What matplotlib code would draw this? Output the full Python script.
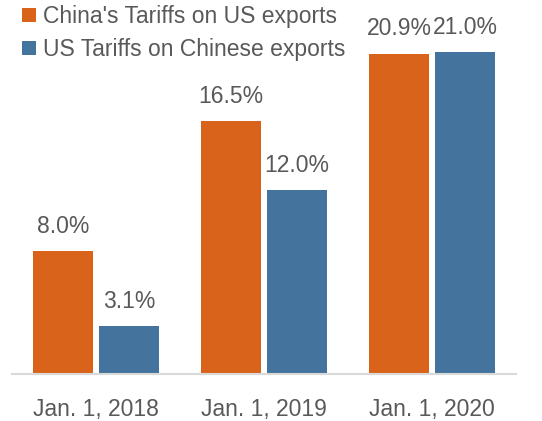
import matplotlib.pyplot as plt
import numpy as np

dates = ['Jan. 1, 2018', 'Jan. 1, 2019', 'Jan. 1, 2020']
china_tariffs = [8.0, 16.5, 20.9]
us_tariffs = [3.1, 12.0, 21.0]
series_names = ["China's Tariffs on US exports", 'US Tariffs on Chinese exports']

orange = '#D9631A'
blue = '#44749E'
grey_text = '#595959'
font = 'Liberation Sans'
fs = 16.5

fig = plt.figure(figsize=(5.42, 4.21), dpi=100)
ax = fig.add_axes([12 / 542, 47 / 421, 504 / 542, 374 / 421])

x = np.arange(len(dates))
w = 0.357
off = 0.196
b1 = ax.bar(x - off, china_tariffs, w, color=orange, label=series_names[0])
b2 = ax.bar(x + off, us_tariffs, w, color=blue, label=series_names[1])

for bars, vals in [(b1, china_tariffs), (b2, us_tariffs)]:
    for rect, v in zip(bars, vals):
        ax.annotate(f'{v:.1f}%', (rect.get_x() + rect.get_width() / 2, v),
                    xytext=(0, 9.5), textcoords='offset points',
                    ha='center', va='bottom', fontsize=fs, family=font,
                    color=grey_text)

ax.set_xlim(-0.5, 2.5)
ax.set_ylim(0, 24.4)
ax.set_xticks(x)
ax.set_xticklabels(dates, fontsize=fs, family=font, color=grey_text)
ax.tick_params(axis='x', length=0, pad=17)
ax.set_yticks([])
for s in ['top', 'right', 'left']:
    ax.spines[s].set_visible(False)
ax.spines['bottom'].set_color('#D9D9D9')
ax.spines['bottom'].set_linewidth(1.5)

leg = ax.legend(loc='upper left', bbox_to_anchor=(20 / 542, 1 - 3 / 421),
                bbox_transform=fig.transFigure, frameon=False,
                prop={'family': font, 'size': fs},
                handlelength=0.6, handleheight=0.6, handletextpad=0.3,
                labelspacing=0.42, borderaxespad=0, borderpad=0.1)
for t in leg.get_texts():
    t.set_color(grey_text)

fig.savefig('out.png', dpi=100)
